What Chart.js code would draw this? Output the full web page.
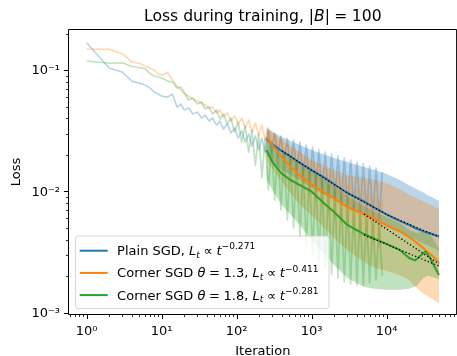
<!DOCTYPE html>
<html>
<head>
<meta charset="utf-8">
<script src="https://cdn.jsdelivr.net/npm/chart.js@4/dist/chart.umd.min.js"></script>
<style>
html, body { margin: 0; padding: 0; background: #fff; overflow: hidden; }
canvas { display: block; }
</style>
</head>
<body>
<canvas id="loss" width="463" height="356"></canvas>
<script>
// iterations at which the raw (unsmoothed) loss was logged
const rawIters = [1, 2, 3, 4, 5, 6, 7, 8, 9, 10, 12, 14, 16, 18, 20, 23, 26, 30, 34, 38,
	43, 48, 54, 60, 67, 75, 84, 94, 105, 117, 130, 145, 160, 178, 197, 218, 240, 265, 292, 322,
	355, 390, 430, 475, 520, 575, 630, 700, 770, 850, 940, 1030, 1140, 1250, 1380, 1520, 1680, 1850, 2040, 2250,
	2480, 2730, 3010, 3320, 3660, 4030, 4440, 4900, 5400, 5950, 6560, 7230, 7970, 8780];

const rawPlain = [0.171, 0.106, 0.0981, 0.0827, 0.0796, 0.0767, 0.0725, 0.0672, 0.0647, 0.0622,
	0.0611, 0.0647, 0.0505, 0.0535, 0.0478, 0.0496, 0.0443, 0.0460, 0.0410, 0.0434,
	0.0388, 0.0410, 0.0359, 0.0388, 0.0333, 0.0366, 0.0309, 0.0340, 0.0281, 0.0321,
	0.0260, 0.0303, 0.0241, 0.0292, 0.0224, 0.0281, 0.0215, 0.0321, 0.0211, 0.0303,
	0.0196, 0.0292, 0.0181, 0.0281, 0.0168, 0.0270, 0.0153, 0.0260, 0.0139, 0.0246,
	0.0127, 0.0237, 0.0115, 0.0224, 0.0105, 0.0215, 0.00954, 0.0207, 0.00901, 0.0200,
	0.00835, 0.0192, 0.00789, 0.0185, 0.00745, 0.0178, 0.00705, 0.0172, 0.00665, 0.0165,
	0.00629, 0.0159, 0.00594, 0.0147];

const rawCorner13 = [0.152, 0.151, 0.139, 0.119, 0.116, 0.110, 0.106, 0.102, 0.0945, 0.0927,
	0.0968, 0.0843, 0.0752, 0.0698, 0.0647, 0.0622, 0.0588, 0.0566, 0.0545, 0.0525,
	0.0496, 0.0505, 0.0451, 0.0478, 0.0418, 0.0451, 0.0388, 0.0426, 0.0366, 0.0410,
	0.0340, 0.0395, 0.0315, 0.0373, 0.0292, 0.0359, 0.0270, 0.0340, 0.0241, 0.0309,
	0.0211, 0.0281, 0.0178, 0.0256, 0.0153, 0.0232, 0.0132, 0.0215, 0.0113, 0.0196,
	0.00972, 0.0185, 0.00868, 0.0172, 0.00774, 0.0159, 0.00691, 0.0147, 0.00617, 0.0137,
	0.00561, 0.0127, 0.00510, 0.0117, 0.00473, 0.0109, 0.00439, 0.0103, 0.00406, 0.00972,
	0.00377, 0.00918, 0.00356, 0.00868];

const rawCorner18 = [0.121, 0.116, 0.117, 0.109, 0.107, 0.105, 0.0954, 0.0910, 0.0893, 0.0876,
	0.0827, 0.0812, 0.0725, 0.0738, 0.0672, 0.0577, 0.0600, 0.0535, 0.0556, 0.0487,
	0.0505, 0.0443, 0.0478, 0.0403, 0.0443, 0.0366, 0.0410, 0.0315, 0.0380, 0.0260,
	0.0353, 0.0215, 0.0327, 0.0168, 0.0303, 0.0132, 0.0281, 0.0105, 0.0260, 0.00868,
	0.0232, 0.00718, 0.0211, 0.00594, 0.0192, 0.00510, 0.0178, 0.00422, 0.0165, 0.00363,
	0.0153, 0.00312, 0.0139, 0.00268, 0.0127, 0.00239, 0.0115, 0.00213, 0.0105, 0.00198,
	0.00954, 0.00183, 0.00868, 0.00177, 0.00789, 0.00173, 0.00718, 0.00173, 0.00653, 0.00180,
	0.00594, 0.00190, 0.00540, 0.00206];

// smoothed mean curves
const smoothIters = [250, 300, 400, 500, 700, 1000, 1500, 2000, 3000, 5000,
	7000, 10000, 15000, 20000, 24000, 28000, 33000, 38000, 43000, 50000];
const smoothPlain = [0.0276, 0.0249, 0.0220, 0.0202, 0.0175, 0.0153, 0.0132, 0.0117, 0.00991, 0.00843,
	0.00746, 0.00659, 0.00583, 0.00540, 0.00510, 0.00491, 0.00473, 0.00460, 0.00447, 0.00434];
const smoothCorner13 = [0.0286, 0.0246, 0.0196, 0.0168, 0.0139, 0.0116, 0.00991, 0.00893, 0.00760, 0.00665,
	0.00605, 0.00535, 0.00478, 0.00430, 0.00395, 0.00366, 0.00336, 0.00312, 0.00292, 0.00263];
const smoothCorner18 = [0.0224, 0.0178, 0.0143, 0.0129, 0.0115, 0.0102, 0.00804, 0.00691, 0.00540, 0.00455,
	0.00414, 0.00377, 0.00336, 0.00289, 0.00276, 0.00300, 0.00327, 0.00289, 0.00248, 0.00209];

// spread bands around the smoothed curves
const bandIters = [250, 400, 700, 1000, 2000, 3000, 5000, 7000, 10000, 15000,
	20000, 25000, 30000, 35000, 40000, 45000, 50000];
const plainHi = [0.0340, 0.0286, 0.0246, 0.0224, 0.0192, 0.0178, 0.0162, 0.0153, 0.0142, 0.0127,
	0.0115, 0.0107, 0.0101, 0.00954, 0.00918, 0.00884, 0.00851];
const plainLo = [0.0203, 0.0153, 0.0127, 0.0109, 0.00868, 0.00746, 0.00653, 0.00594, 0.00530, 0.00473,
	0.00430, 0.00406, 0.00384, 0.00370, 0.00356, 0.00343, 0.00330];
const corner13Hi = [0.0340, 0.0270, 0.0215, 0.0185, 0.0153, 0.0139, 0.0132, 0.0127, 0.0120, 0.0107,
	0.00954, 0.00901, 0.00851, 0.00820, 0.00789, 0.00760, 0.00731];
const corner13Lo = [0.0185, 0.0122, 0.00789, 0.00653, 0.00422, 0.00336, 0.00268, 0.00239, 0.00226, 0.00209,
	0.00190, 0.00164, 0.00149, 0.00141, 0.00133, 0.00128, 0.00123];
const corner18Hi = [0.0281, 0.0215, 0.0178, 0.0153, 0.0113, 0.00936, 0.00774, 0.00691, 0.00629, 0.00561,
	0.00491, 0.00464, 0.00473, 0.00473, 0.00430, 0.00384, 0.00343];
const corner18Lo = [0.0127, 0.00789, 0.00540, 0.00406, 0.00253, 0.00198, 0.00167, 0.00161, 0.00158, 0.00158,
	0.00161, 0.00170, 0.00194, 0.00206, 0.00202, 0.00198, 0.00194];

// power-law fits (dotted)
const fitPlainIters = [400, 1000, 3000, 10000, 30000, 50000];
const fitPlain = [0.0220, 0.0153, 0.00991, 0.00659, 0.00491, 0.00434];
const fitCornerIters = [5000, 50000];
const fitCorner13 = [0.00665, 0.00258];
const fitCorner18 = [0.00447, 0.00248];

const seriesNames = ['Plain SGD', 'Corner SGD', 'Corner SGD'];
const thetas = [null, '1.3', '1.8'];
const exponents = ['\u22120.271', '\u22120.411', '\u22120.281'];

const xMajorTicks = [1, 10, 100, 1000, 10000];
const xTickLabels = ['10\u2070', '10\u00b9', '10\u00b2', '10\u00b3', '10\u2074'];
const yMajorTicks = [0.001, 0.01, 0.1];
const yTickLabels = ['10\u207b\u00b3', '10\u207b\u00b2', '10\u207b\u00b9'];

const xLabel = 'Iteration';
const yLabel = 'Loss';

const FONT = '"DejaVu Sans"';
const colors = ['#1f77b4', '#ff7f0e', '#2ca02c'];


function withAlpha(hex, a) {
	const n = parseInt(hex.slice(1), 16);
	return 'rgba(' + (n >> 16) + ',' + ((n >> 8) & 255) + ',' + (n & 255) + ',' + a + ')';
}

function points(xs, ys) {
	return xs.map((x, i) => ({x: x, y: ys[i]}));
}

function withMinors(majors, lo, hi) {
	const out = [];
	[majors[0] / 10].concat(majors).forEach(function(base) {
		for (let m = 1; m < 10; m++) {
			const v = base * m;
			if (v >= lo && v <= hi) out.push({value: v});
		}
	});
	return out;
}

// draw text made of roman / italic / sub / sup / relation runs, returns width
function mathRun(ctx, runs, x, y, size, draw) {
	let cx = x;
	for (const [text, kind] of runs) {
		let fs = size, dy = 0, italic = false, gap = 0;
		if (kind === 'it') italic = true;
		if (kind === 'sub') { italic = true; fs = size * 0.7; dy = size * 0.2; }
		if (kind === 'sup') { fs = size * 0.7; dy = -size * 0.44; }
		if (kind === 'rel') gap = size * 0.28;
		ctx.font = (italic ? 'italic ' : '') + fs.toFixed(1) + 'px ' + FONT;
		cx += gap;
		if (draw) ctx.fillText(text, cx, y + dy);
		cx += ctx.measureText(text).width + gap;
	}
	return cx - x;
}

function legendRuns(i) {
	const runs = [[seriesNames[i] + (thetas[i] ? ' ' : ', '), 'rm']];
	if (thetas[i]) {
		runs.push(['\u03b8', 'it'], ['=', 'rel'], [thetas[i], 'rm'], [', ', 'rm']);
	}
	runs.push(['L', 'it'], ['t', 'sub'], ['\u221d', 'rel'], ['t', 'it'], [exponents[i], 'sup']);
	return runs;
}

const titleRuns = [['Loss during training, ', 'rm'], ['|', 'rm'], ['B', 'it'], ['|', 'rm'], ['=', 'rel'], ['100', 'rm']];


const decor = {
	id: 'decor',
	afterDraw(chart) {
		const ctx = chart.ctx;
		const a = chart.chartArea;
		const L = Math.round(a.left) - 0.5, T = Math.round(a.top) + 0.5;
		const B = Math.round(a.bottom) - 0.5, R = a.right;

		ctx.save();
		ctx.strokeStyle = '#000';
		ctx.lineWidth = 1;
		ctx.beginPath();
		ctx.moveTo(L, B); ctx.lineTo(L, T); ctx.lineTo(R, T); ctx.lineTo(R, B); ctx.closePath();
		ctx.stroke();

		// tick marks, outward like matplotlib
		const xs = chart.scales.x, ys = chart.scales.y;
		xs.ticks.forEach(function(t) {
			const major = xMajorTicks.includes(t.value);
			const px = Math.round(xs.getPixelForValue(t.value)) + 0.5;
			if (px < a.left - 1 || px > a.right + 1) return;
			ctx.lineWidth = major ? 1 : 0.8;
			ctx.beginPath();
			ctx.moveTo(px, B); ctx.lineTo(px, B + (major ? 4.6 : 2.6));
			ctx.stroke();
		});
		ys.ticks.forEach(function(t) {
			const major = yMajorTicks.includes(t.value);
			const py = Math.round(ys.getPixelForValue(t.value)) - 0.5;
			if (py < a.top - 1 || py > a.bottom + 1) return;
			ctx.lineWidth = major ? 1 : 0.8;
			ctx.beginPath();
			ctx.moveTo(L, py); ctx.lineTo(L - (major ? 4.6 : 2.6), py);
			ctx.stroke();
		});

		// title and axis labels
		const mid = (a.left + a.right) / 2;
		ctx.fillStyle = '#000';
		ctx.textBaseline = 'alphabetic';
		ctx.textAlign = 'left';
		const tw = mathRun(ctx, titleRuns, 0, 0, 15.6, false);
		mathRun(ctx, titleRuns, mid - tw / 2, 20.7, 15.6, true);

		ctx.font = '13px ' + FONT;
		ctx.textAlign = 'center';
		ctx.fillText(xLabel, mid, 354.5);
		ctx.save();
		ctx.translate(20, (a.top + a.bottom) / 2);
		ctx.rotate(-Math.PI / 2);
		ctx.fillText(yLabel, 0, 0);
		ctx.restore();

		// legend, lower left
		ctx.textAlign = 'left';
		const fs = 13;
		const boxL = a.left + 6.5, boxB = a.bottom - 6.5, boxT = 236;
		const textX = boxL + 5.2 + 26 + 10.4;
		const boxR = 329;
		const r = 2.6;
		ctx.beginPath();
		ctx.moveTo(boxL + r, boxT);
		ctx.arcTo(boxR, boxT, boxR, boxB, r);
		ctx.arcTo(boxR, boxB, boxL, boxB, r);
		ctx.arcTo(boxL, boxB, boxL, boxT, r);
		ctx.arcTo(boxL, boxT, boxR, boxT, r);
		ctx.closePath();
		ctx.fillStyle = 'rgba(255,255,255,0.8)';
		ctx.fill();
		ctx.strokeStyle = 'rgba(204,204,204,0.8)';
		ctx.lineWidth = 1;
		ctx.stroke();

		const rowY = [250.7, 272.9, 295.1];
		for (let i = 0; i < 3; i++) {
			ctx.strokeStyle = colors[i];
			ctx.lineWidth = 2;
			ctx.beginPath();
			ctx.moveTo(boxL + 4.2, rowY[i]);
			ctx.lineTo(boxL + 32.2, rowY[i]);
			ctx.stroke();
			ctx.fillStyle = '#000';
			mathRun(ctx, legendRuns(i), textX, rowY[i] + 4.4, fs, true);
		}
		ctx.restore();
	}
};


const datasets = [];
const raws = [rawPlain, rawCorner13, rawCorner18];
const smooths = [smoothPlain, smoothCorner13, smoothCorner18];
const bandsHi = [plainHi, corner13Hi, corner18Hi];
const bandsLo = [plainLo, corner13Lo, corner18Lo];

for (let s = 0; s < 3; s++) {
	datasets.push({
		data: points(bandIters, bandsHi[s]), borderColor: 'rgba(0,0,0,0)', borderWidth: 0,
		backgroundColor: withAlpha(colors[s], 0.3), fill: '+1', order: 60 - s
	});
	datasets.push({
		data: points(bandIters, bandsLo[s]), borderColor: 'rgba(0,0,0,0)', borderWidth: 0,
		fill: false, order: 60 - s
	});
}
for (let s = 0; s < 3; s++) {
	datasets.push({
		data: points(rawIters, raws[s]), borderColor: withAlpha(colors[s], 0.3),
		borderWidth: 1.7, fill: false, order: 40 - s
	});
}
for (let s = 0; s < 3; s++) {
	datasets.push({
		data: points(smoothIters, smooths[s]), borderColor: colors[s],
		borderWidth: 2, fill: false, order: 10 - s
	});
}
[[fitPlainIters, fitPlain], [fitCornerIters, fitCorner13], [fitCornerIters, fitCorner18]].forEach(function(f) {
	datasets.push({
		data: points(f[0], f[1]), borderColor: '#000', borderWidth: 1.3,
		borderDash: [1.3, 2.15], fill: false, order: 0
	});
});


const tickFont = {family: 'DejaVu Sans', size: 13};

new Chart(document.getElementById('loss'), {
	type: 'line',
	data: {datasets: datasets},
	options: {
		responsive: false,
		animation: false,
		events: [],
		layout: {padding: {left: 0, right: 1.3, top: 29, bottom: 0}},
		elements: {
			point: {radius: 0},
			line: {tension: 0, borderJoinStyle: 'round', borderCapStyle: 'butt'}
		},
		plugins: {
			legend: {display: false},
			tooltip: {enabled: false},
			title: {display: false}
		},
		scales: {
			x: {
				type: 'logarithmic',
				min: 0.582,
				max: 85900,
				border: {display: false},
				grid: {display: false, drawTicks: false},
				ticks: {
					autoSkip: false, maxRotation: 0, padding: 8.7, color: '#000', font: tickFont,
					callback: (v) => {
						const i = xMajorTicks.indexOf(v);
						return i < 0 ? '' : xTickLabels[i];
					}
				},
				afterBuildTicks: (axis) => { axis.ticks = withMinors(xMajorTicks, 0.582, 85900); },
				afterFit: (axis) => { axis.height = 41; }
			},
			y: {
				type: 'logarithmic',
				min: 0.00098,
				max: 0.222,
				border: {display: false},
				grid: {display: false, drawTicks: false},
				ticks: {
					autoSkip: false, padding: 9, color: '#000', font: tickFont,
					callback: (v) => {
						const i = yMajorTicks.indexOf(v);
						return i < 0 ? '' : yTickLabels[i];
					}
				},
				afterBuildTicks: (axis) => { axis.ticks = withMinors(yMajorTicks, 0.00098, 0.222); },
				afterFit: (axis) => { axis.width = 69; }
			}
		}
	},
	plugins: [decor]
});
</script>
</body>
</html>
